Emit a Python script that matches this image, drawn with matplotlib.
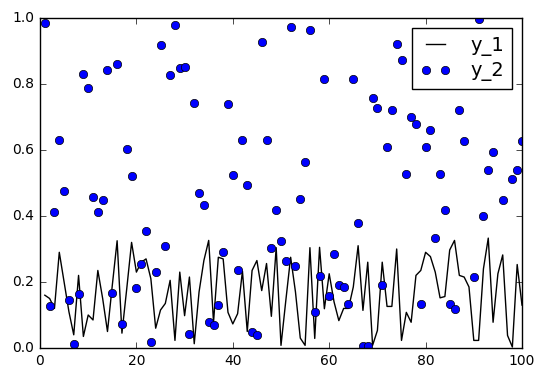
import numpy as np
import matplotlib
matplotlib.use('Agg')
import matplotlib.pyplot as plt

# x positions 1..100
x = np.arange(1, 101)

# y_1 line
y_1 = [0.16, 0.15, 0.12, 0.29, 0.20, 0.11, 0.04, 0.22, 0.035, 0.10,
       0.085, 0.235, 0.15, 0.05, 0.19, 0.325, 0.045, 0.18, 0.32, 0.23,
       0.26, 0.27, 0.21, 0.06, 0.115, 0.135, 0.205, 0.023, 0.23, 0.098,
       0.215, 0.013, 0.17, 0.265, 0.326, 0.078, 0.275, 0.27, 0.108, 0.073,
       0.104, 0.233, 0.05, 0.235, 0.265, 0.174, 0.256, 0.096, 0.304, 0.008,
       0.144, 0.275, 0.17, 0.03, 0.008, 0.304, 0.029, 0.305, 0.119, 0.225,
       0.14, 0.083, 0.12, 0.12, 0.185, 0.31, 0.114, 0.26, 0.008, 0.053,
       0.26, 0.126, 0.126, 0.30, 0.023, 0.108, 0.078, 0.22, 0.235, 0.29,
       0.277, 0.23, 0.152, 0.156, 0.297, 0.326, 0.22, 0.215, 0.185, 0.023,
       0.023, 0.24, 0.333, 0.078, 0.225, 0.282, 0.038, 0.003, 0.253, 0.13]

# y_2 points
y_2 = [0.985, 0.126, 0.413, 0.629, 0.477, 0.146, 0.013, 0.163, 0.829, 0.788,
       0.459, 0.413, 0.449, 0.841, 0.167, 0.861, 0.073, 0.604, 0.52, 0.181,
       0.255, 0.354, 0.018, 0.23, 0.919, 0.308, 0.826, 0.98, 0.849, 0.853,
       0.041, 0.743, 0.47, 0.432, 0.078, 0.071, 0.129, 0.292, 0.74, 0.523,
       0.235, 0.629, 0.495, 0.048, 0.038, 0.927, 0.629, 0.304, 0.419, 0.323,
       0.265, 0.974, 0.247, 0.452, 0.565, 0.964, 0.108, 0.217, 0.816, 0.159,
       0.285, 0.19, 0.186, 0.134, 0.814, 0.38, 0.005, 0.005, 0.758, 0.728,
       0.19, 0.61, 0.722, 0.92, 0.873, 0.526, 0.70, 0.68, 0.134, 0.608,
       0.662, 0.334, 0.526, 0.419, 0.134, 0.117, 0.72, 0.626, 0.88, 0.215,
       0.998, 0.40, 0.54, 0.594, 0.85, 0.447, 0.90, 0.513, 0.54, 0.626]

plt.style.use('classic')
fig = plt.figure(figsize=(5.47, 3.77), dpi=100)
ax = fig.add_axes([40/547, 29/377, 482/547, 330/377])
ax.plot(x, y_1, 'k-', lw=1, label='y_1')
ax.plot(x, y_2, 'bo', ms=6, label='y_2')
ax.set_xlim(0, 100)
ax.set_ylim(0, 1)
ax.set_xticks([0, 20, 40, 60, 80, 100])
ax.set_yticks([0.0, 0.2, 0.4, 0.6, 0.8, 1.0])
ax.tick_params(labelsize=10)
ax.legend(loc='upper right', fontsize=14, numpoints=2,
          handlelength=1.6, handletextpad=1.0, borderpad=0.4,
          labelspacing=0.3)
fig.savefig('out.png', dpi=100, facecolor='white')
